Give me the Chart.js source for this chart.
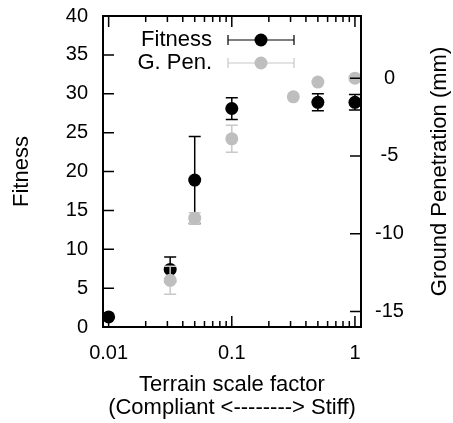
<!DOCTYPE html>
<html>
<head>
<meta charset="utf-8">
<script src="https://cdn.jsdelivr.net/npm/chart.js@4.4.1/dist/chart.umd.min.js"></script>
<style>
    html, body { margin: 0; padding: 0; background: #fff; }
    canvas { display: block; }
</style>
</head>
<body>
<canvas id="terrainFitness" width="453" height="423"></canvas>
<script>
// Terrain scale factor (log x axis)
const scaleFactors = [0.01, 0.0316, 0.05, 0.1, 0.316, 0.5, 1];
// Fitness (left axis) with error
const fitness = [1.3, 7.4, 18.9, 28.1, null, 28.9, 28.9];
const fitnessErr = [0, 1.6, 5.6, 1.4, null, 1.1, 1.0];
// Ground penetration in mm (right axis) with error
const groundPen = [null, -13.0, -9.0, -3.9, -1.2, -0.25, 0.0];
const groundPenErr = [null, 0.9, 0.35, 0.87, 0, 0, 0];

const xTicks = [0.01, 0.1, 1];
const fitnessTicks = [0, 5, 10, 15, 20, 25, 30, 35, 40];
const penTicks = [-15, -10, -5, 0];

const rightTitle = 'Ground Penetration (mm)';

const toPoints = (ys, errs) => scaleFactors
    .map((x, i) => ({ x: x, y: ys[i], err: errs[i] }))
    .filter(p => p.y !== null);

const fontFamily = "'Liberation Sans', Arial, sans-serif";
Chart.defaults.font.family = fontFamily;
Chart.defaults.color = '#000';

// error bars drawn just before each dataset's points
const errorBars = {
    id: 'errorBars',
    beforeDatasetDraw(chart, args) {
        const ds = chart.data.datasets[args.index];
        const xScale = chart.scales[args.meta.xAxisID];
        const yScale = chart.scales[args.meta.yAxisID];
        const ctx = chart.ctx;
        ctx.save();
        ctx.strokeStyle = ds.errorColor;
        ctx.lineWidth = 1.5;
        ds.data.forEach(p => {
            if (!p.err) return;
            const x = xScale.getPixelForValue(p.x);
            const yTop = yScale.getPixelForValue(p.y + p.err);
            const yBot = yScale.getPixelForValue(p.y - p.err);
            ctx.beginPath();
            ctx.moveTo(x, yTop); ctx.lineTo(x, yBot);
            ctx.moveTo(x - 6, yTop); ctx.lineTo(x + 6, yTop);
            ctx.moveTo(x - 6, yBot); ctx.lineTo(x + 6, yBot);
            ctx.stroke();
        });
        ctx.restore();
    }
};

// gnuplot style frame with inward ticks, plus the right title read bottom-to-top
const frameTicks = {
    id: 'frameTicks',
    afterDraw(chart) {
        const { ctx, chartArea: a, scales } = chart;
        ctx.save();
        ctx.strokeStyle = '#000';
        ctx.lineWidth = 1.5;
        ctx.beginPath();
        const xs = scales.x;
        for (let d = -3; d <= 0; d++) {
            for (let m = 1; m <= 9; m++) {
                const v = m * Math.pow(10, d);
                if (v < xs.min || v > xs.max) continue;
                const px = xs.getPixelForValue(v);
                const len = m === 1 ? 11 : 6;
                ctx.moveTo(px, a.bottom); ctx.lineTo(px, a.bottom - len);
                ctx.moveTo(px, a.top); ctx.lineTo(px, a.top + len);
            }
        }
        scales.y.ticks.forEach(t => {
            const py = scales.y.getPixelForValue(t.value);
            ctx.moveTo(a.left, py); ctx.lineTo(a.left + 11, py);
        });
        scales.y2.ticks.forEach(t => {
            const py = scales.y2.getPixelForValue(t.value);
            ctx.moveTo(a.right, py); ctx.lineTo(a.right - 11, py);
        });
        ctx.stroke();
        ctx.lineWidth = 2;
        ctx.strokeRect(a.left, a.top, a.right - a.left, a.bottom - a.top);

        ctx.translate(scales.y2.right - 13, (a.top + a.bottom) / 2);
        ctx.rotate(-Math.PI / 2);
        ctx.font = '22px ' + fontFamily;
        ctx.fillStyle = '#000';
        ctx.textAlign = 'center';
        ctx.textBaseline = 'middle';
        ctx.fillText(rightTitle, 0, 0);
        ctx.restore();
    }
};

// legend with error-bar samples
const errorLegend = {
    id: 'errorLegend',
    afterDatasetsDraw(chart) {
        const { ctx, chartArea: a } = chart;
        ctx.save();
        ctx.font = '22px ' + fontFamily;
        ctx.textAlign = 'right';
        ctx.textBaseline = 'middle';
        chart.data.datasets.forEach((ds, i) => {
            const y = a.top + 24 + i * 23;
            const x0 = a.left + 125, x1 = a.left + 191, xm = (x0 + x1) / 2;
            ctx.fillStyle = '#000';
            ctx.fillText(ds.label, a.left + 109, y);
            ctx.strokeStyle = ds.errorColor;
            ctx.lineWidth = 1.2;
            ctx.beginPath();
            ctx.moveTo(x0, y); ctx.lineTo(x1, y);
            ctx.moveTo(x0, y - 5); ctx.lineTo(x0, y + 5);
            ctx.moveTo(x1, y - 5); ctx.lineTo(x1, y + 5);
            ctx.stroke();
            ctx.fillStyle = ds.pointBackgroundColor;
            ctx.beginPath();
            ctx.arc(xm, y, ds.pointRadius, 0, Math.PI * 2);
            ctx.fill();
        });
        ctx.restore();
    }
};

const tickFont = { size: 20 };
const titleFont = { size: 22, lineHeight: 1.02 };
const noGrid = { display: false, drawTicks: false };
// fixed box sizes so the plot area sits where the original has it
const fixVertical = w => s => { s.width = w; s.paddingTop = 0; s.paddingBottom = 0; };

new Chart(document.getElementById('terrainFitness').getContext('2d'), {
    type: 'scatter',
    data: {
        datasets: [
            {
                label: 'Fitness',
                data: toPoints(fitness, fitnessErr),
                yAxisID: 'y',
                order: 2,
                pointRadius: 6.5,
                pointBorderWidth: 0,
                pointBackgroundColor: '#000',
                errorColor: '#000'
            },
            {
                label: 'G. Pen.',
                data: toPoints(groundPen, groundPenErr),
                yAxisID: 'y2',
                order: 1,
                pointRadius: 6.5,
                pointBorderWidth: 0,
                pointBackgroundColor: 'rgb(190, 190, 190)',
                errorColor: 'rgb(200, 200, 200)'
            }
        ]
    },
    options: {
        responsive: false,
        animation: false,
        layout: { padding: { top: 16 } },
        plugins: {
            legend: { display: false },
            tooltip: { enabled: false }
        },
        scales: {
            x: {
                type: 'logarithmic',
                position: 'bottom',
                min: 0.009,
                max: 1.12,
                grid: noGrid,
                border: { display: false },
                afterBuildTicks: s => { s.ticks = xTicks.map(v => ({ value: v })); },
                afterFit: s => { s.height = 96; s.paddingLeft = 0; s.paddingRight = 0; },
                ticks: { font: tickFont, padding: 14, maxRotation: 0, callback: v => String(v) },
                title: {
                    display: true,
                    text: ['Terrain scale factor', '(Compliant <--------> Stiff)'],
                    font: titleFont,
                    padding: { bottom: 4 }
                }
            },
            y: {
                position: 'left',
                min: 0,
                max: 40,
                grid: noGrid,
                border: { display: false },
                afterBuildTicks: s => { s.ticks = fitnessTicks.map(v => ({ value: v })); },
                afterFit: fixVertical(103),
                ticks: { font: tickFont, padding: 15 },
                title: { display: true, text: 'Fitness', font: titleFont, padding: { top: 11 } }
            },
            y2: {
                position: 'right',
                min: -16,
                max: 4,
                grid: noGrid,
                border: { display: false },
                afterBuildTicks: s => { s.ticks = penTicks.map(v => ({ value: v })); },
                afterFit: fixVertical(92),
                ticks: { font: tickFont, padding: 14, crossAlign: 'center' },
                title: { display: false }
            }
        }
    },
    plugins: [errorBars, frameTicks, errorLegend]
});
</script>
</body>
</html>
